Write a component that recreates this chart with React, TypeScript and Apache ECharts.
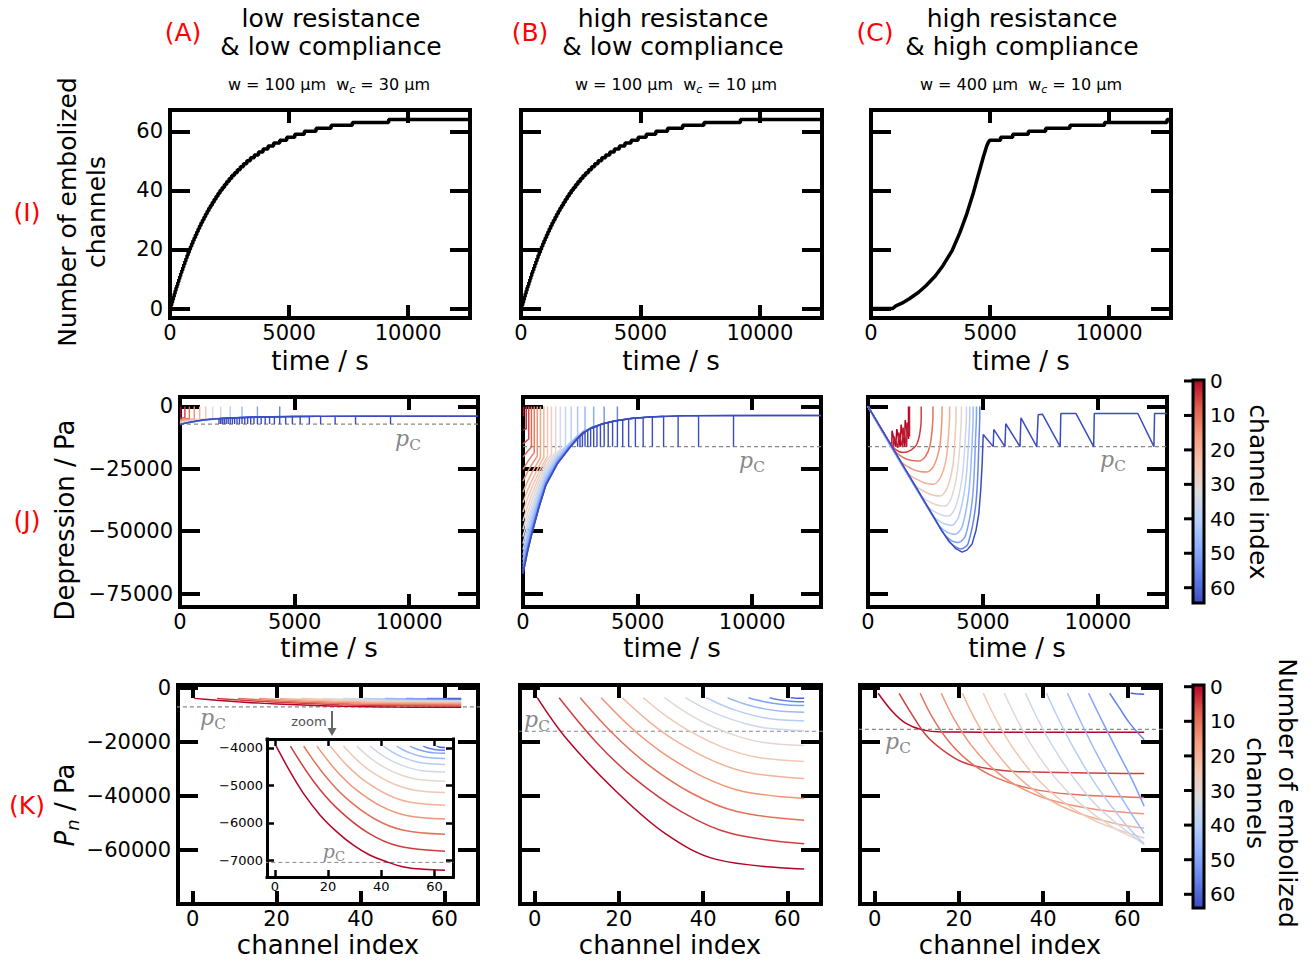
import React, { useEffect, useRef } from "react";
import * as echarts from "echarts";

const W = 1311;
const H = 960;
const FONT = "DejaVu Sans";
const SERIF = "DejaVu Serif";
const RED = "#ff0000";
const GREY = "#888888";

// ---------- tick values ----------
const TIME_TICKS = [0, 5000, 10000];
const COUNT_TICKS = [0, 20, 40, 60];
const DEPRESSION_TICKS = [0, -25000, -50000, -75000];
const PN_TICKS = [0, -20000, -40000, -60000];
const CHANNEL_TICKS = [0, 20, 40, 60];
const INSET_Y_TICKS = [-4000, -5000, -6000, -7000];
const COLORBAR_TICKS = [0, 10, 20, 30, 40, 50, 60];

// ---------- critical pressures ----------
const PC_A = -7060;
const PC_B = -16100;
const PC_C_TIME = -16100;
const PC_C_CHANNEL = -15400;

// ---------- row I : embolization times (A and B identical) ----------
const EMB_TIMES_AB = [
  34, 69, 104, 140, 176, 213, 251, 289, 328, 368, 408, 449, 491, 534, 577, 622,
  667, 713, 761, 809, 858, 909, 961, 1014, 1068, 1124, 1181, 1240, 1300, 1362,
  1426, 1491, 1559, 1629, 1701, 1776, 1853, 1933, 2016, 2102, 2192, 2286, 2383,
  2486, 2593, 2706, 2825, 2951, 3084, 3226, 3378, 3541, 3717, 3908, 4118, 4350,
  4609, 4903, 5242, 5643, 6134, 6767, 7659, 9184,
];
const EMBOLIZED_C = [
  [0, 0], [903, 0], [1045, 0.9], [1300, 1.8], [1610, 3.3], [2000, 5.5], [2318, 7.8],
  [2700, 11], [3020, 14.5], [3400, 19.5], [3729, 25.6], [4000, 31.5], [4294, 39],
  [4500, 45], [4718, 51.3], [4850, 54.8], [4929, 56.3], [5000, 57], [5444, 57],
  [5444, 58], [5953, 58], [5953, 59], [6608, 59], [6608, 60], [7336, 60], [7336, 61],
  [8355, 61], [8355, 62], [9811, 62], [9811, 63], [12432, 63], [12432, 64], [12600, 64],
];

// ---------- row J : channel pressures vs time ----------
const JUMP_MAX_CHANNEL = 55;

const JA_CHANNELS = [0, 5, 10, 15, 20, 25, 30, 35, 40, 45, 50, 55, 60, 63];
const JA_CURVES = [
  [[0, -3950], [34, -3950]],
  [[0, -4560], [213, -4470]],
  [[0, -5140], [200, -4970], [408, -4830]],
  [[0, -5640], [200, -5410], [400, -5210], [622, -5010]],
  [[0, -6080], [200, -5790], [400, -5540], [700, -5220], [858, -5080]],
  [[0, -6400], [200, -6070], [400, -5780], [700, -5420], [1000, -5130], [1124, -5030]],
  [[0, -6620], [200, -6260], [400, -5945], [700, -5550], [1000, -5230], [1426, -4880]],
  [[0, -6840], [200, -6450], [400, -6110], [700, -5685], [1000, -5340], [1500, -4910], [1776, -4720]],
  [[0, -7000], [200, -6590], [400, -6230], [700, -5780], [1000, -5420], [1500, -4960], [2000, -4640], [2192, -4550]],
  [[0, -7120], [200, -6690], [400, -6320], [700, -5855], [1000, -5480], [1500, -5000], [2000, -4670], [2500, -4440], [2706, -4370]],
  [[0, -7200], [200, -6760], [400, -6380], [700, -5900], [1000, -5520], [1500, -5030], [2000, -4690], [2500, -4450], [3000, -4290], [3378, -4200]],
  [[0, -7245], [200, -6800], [400, -6420], [700, -5930], [1000, -5540], [1500, -5050], [2000, -4700], [2500, -4460], [3000, -4290], [3500, -4170], [4000, -4090], [4350, -4050]],
  [[0, -7265], [200, -6790], [400, -6385], [700, -5850], [1000, -5380], [1500, -4980], [2000, -4690], [2500, -4460], [3000, -4290], [3500, -4170], [4000, -4100], [5000, -3990], [6134, -3940]],
  [[0, -7270], [200, -6800], [400, -6390], [700, -5850], [1000, -5380], [1500, -4980], [2000, -4690], [2500, -4460], [3000, -4290], [3500, -4170], [4000, -4100], [5000, -3990], [6000, -3950], [8000, -3910], [13000, -3900]],
];
const JA_COMB_FIRST = 34;
const JA_COMB_TOPS = [
  -4870, -4840, -4810, -4780, -4750, -4720, -4690, -4660, -4630, -4590, -4560, -4520,
  -4480, -4440, -4400, -4360, -4320, -4280, -4240, -4200, -4160, -4120, -4080, -4040,
  -4000, -3970, -3950, -3930, -3910, -3900,
];

const JB_CHANNELS = [0, 3, 6, 9, 12, 15, 18, 21, 24, 27, 30, 33, 36, 39, 42, 45, 48, 51, 54, 57, 60, 63];
const JB_CURVES = [
  [[0, -3700], [34, -3700]],
  [[0, -9500], [140, -8910]],
  [[0, -15000], [251, -13060]],
  [[0, -20300], [200, -17960], [368, -16290]],
  [[0, -25200], [200, -22180], [400, -19580], [491, -18500]],
  [[0, -29900], [200, -26220], [400, -23060], [622, -19910]],
  [[0, -34300], [200, -30000], [400, -26320], [761, -20490]],
  [[0, -38500], [200, -33610], [400, -29430], [700, -23840], [909, -20350]],
  [[0, -42300], [200, -36880], [400, -32240], [700, -26050], [1068, -19850]],
  [[0, -45900], [200, -39980], [400, -34900], [700, -28130], [1000, -22210], [1240, -19250]],
  [[0, -49200], [200, -42820], [400, -37340], [700, -30050], [1000, -23660], [1426, -18190]],
  [[0, -52200], [200, -45400], [400, -39560], [700, -31790], [1000, -24980], [1500, -18420], [1629, -17210]],
  [[0, -55000], [200, -47800], [400, -41640], [700, -33410], [1000, -26220], [1500, -19280], [1853, -15940]],
  [[0, -57400], [200, -49870], [400, -43410], [700, -34800], [1000, -27270], [1500, -20010], [2000, -14950], [2102, -13820]],
  [[0, -59600], [200, -51760], [400, -45040], [700, -36080], [1000, -28240], [1500, -20680], [2000, -15420], [2383, -11550]],
  [[0, -61500], [200, -53390], [400, -46450], [700, -37180], [1000, -29080], [1500, -21260], [2000, -15820], [2300, -12630], [2706, -9390]],
  [[0, -63100], [200, -54770], [400, -47630], [700, -38110], [1000, -29780], [1500, -21750], [2000, -16150], [2600, -10320], [3084, -7940]],
  [[0, -64500], [200, -55970], [400, -48670], [700, -38920], [1000, -30400], [1500, -22170], [2000, -16450], [2600, -10480], [3000, -8410], [3541, -6650]],
  [[0, -65600], [200, -56920], [400, -49480], [700, -39560], [1000, -30880], [1500, -22510], [2000, -16680], [2600, -10610], [3000, -8500], [3500, -6820], [4118, -5580]],
  [[0, -66300], [200, -57520], [400, -50000], [700, -39970], [1000, -31190], [1500, -22720], [2000, -16830], [2600, -10690], [3000, -8550], [3500, -6860], [4000, -5790], [4903, -4600]],
  [[0, -66900], [200, -58040], [400, -50440], [700, -40310], [1000, -31450], [1500, -22910], [2000, -16960], [2600, -10750], [3000, -8600], [3500, -6890], [4000, -5820], [4700, -4800], [5500, -4200], [6134, -3920]],
  [[0, -67100], [200, -58200], [400, -50600], [700, -40400], [1000, -31500], [1500, -23000], [2000, -17000], [2300, -13500], [2600, -10800], [3000, -8600], [3500, -6900], [4000, -5800], [4700, -4800], [5500, -4200], [7000, -3700], [13000, -3600]],
];
const JB_COMB_FIRST = 42;
const JB_COMB_TOPS = [
  -12800, -12000, -11200, -10300, -9500, -8800, -8300, -7800, -7300, -6800, -6400,
  -6000, -5600, -5300, -4900, -4600, -4400, -4150, -3950, -3750, -3650, -3600,
];

const JC_CHANNELS = [0, 2, 5, 10, 15, 20, 25, 30, 35, 40, 45, 50, 55, 63];
const JC_CURVES = [
  [[0, 0], [1035, -16100], [1045, -9700], [1200, -16100], [1253, -9100], [1400, -16100], [1441, -7300], [1590, -16100], [1616, -5500], [1761, -13000]],
  [[0, 0], [1100, -17000], [1130, -12000], [1300, -16500], [1340, -10500], [1500, -16300], [1530, -8500], [1680, -16200], [1700, -6500], [1805, -12000]],
  [[0, 0], [900, -14000], [1200, -17300], [1543, -18500], [1850, -17600], [2100, -15500], [2250, -11000], [2314, -5000]],
  [[0, 0], [1100, -17200], [1500, -20300], [1850, -21600], [2198, -21900], [2500, -20000], [2700, -15500], [2800, -8000], [2825, -3000]],
  [[0, 0], [1400, -21800], [1900, -25000], [2250, -26100], [2562, -26300], [2850, -24000], [3100, -17000], [3190, -9000], [3218, -3000]],
  [[0, 0], [1700, -26500], [2300, -30000], [2600, -31000], [2853, -31200], [3150, -28500], [3400, -21000], [3510, -10000], [3550, -3000]],
  [[0, 0], [2000, -31200], [2600, -34800], [2900, -35700], [3144, -35900], [3450, -32500], [3700, -23000], [3800, -10000], [3829, -3000]],
  [[0, 0], [2300, -35800], [2850, -39000], [3150, -39800], [3362, -39900], [3650, -36000], [3900, -25000], [4030, -10000], [4061, -3000]],
  [[0, 0], [2550, -39700], [3050, -43000], [3330, -43800], [3508, -43900], [3820, -40000], [4100, -28000], [4250, -10000], [4279, -3000]],
  [[0, 0], [2800, -43600], [3250, -46800], [3500, -47500], [3654, -47600], [3950, -44000], [4250, -30000], [4400, -10000], [4424, -3000]],
  [[0, 0], [3050, -47400], [3450, -50500], [3650, -51100], [3799, -51200], [4100, -48000], [4400, -33000], [4550, -10000], [4572, -3000]],
  [[0, 0], [3300, -51000], [3650, -53900], [3820, -54400], [3945, -54500], [4250, -51500], [4550, -36000], [4690, -10000], [4716, -3000]],
  [[0, 0], [3500, -54000], [3850, -56500], [3970, -57000], [4040, -57100], [4350, -55000], [4700, -38000], [4840, -10000], [4860, -3000]],
  [[0, 0], [1035, -16000], [2052, -31700], [2780, -43100], [3200, -49800], [3507, -53700], [3800, -56900], [4090, -58400], [4300, -57600], [4527, -55100], [4700, -49500], [4817, -43100], [4900, -33500], [4963, -23100], [4990, -16100], [5010, -11200], [5444, -16100], [5470, -9200], [5953, -16100], [5990, -6930], [6608, -16100], [6650, -4530], [7336, -16100], [7400, -3300], [7583, -3100], [8355, -16100], [8384, -2800], [9039, -2800], [9811, -16100], [9840, -2800], [11733, -2800], [12432, -16100], [12460, -2800], [13000, -2800]],
];
const JC_SMOOTH = [false, false, 0.3, 0.3, 0.3, 0.3, 0.3, 0.3, 0.3, 0.3, 0.3, 0.3, 0.3, false];

// ---------- row K : pressure profiles along channels ----------
const EMBOLIZED_COUNTS = [0, 5, 10, 15, 20, 25, 30, 35, 40, 45, 50, 55, 60];
const KA_CURVES = [
  [[0.4, -3946], [5.7, -4635], [10.7, -5215], [17, -5796], [23.3, -6243], [29.5, -6600], [35.8, -6869], [42.2, -7047], [48.4, -7181], [56, -7244], [64, -7271]],
  [[5.8, -3950], [14.5, -4889], [23.3, -5608], [34.9, -6263], [46.5, -6622], [64, -6760]],
  [[10.8, -3950], [18.8, -4738], [26.8, -5342], [37.4, -5892], [48.0, -6194], [64, -6310]],
  [[15.8, -3950], [23.0, -4601], [30.3, -5100], [39.9, -5555], [49.5, -5804], [64, -5900]],
  [[20.8, -3950], [27.3, -4478], [33.8, -4882], [42.4, -5250], [51.0, -5453], [64, -5530]],
  [[25.8, -3950], [31.5, -4364], [37.3, -4682], [44.9, -4971], [52.5, -5129], [64, -5190]],
  [[30.8, -3950], [35.8, -4264], [40.8, -4505], [47.4, -4724], [54.0, -4844], [64, -4890]],
  [[35.8, -3950], [40.0, -4180], [44.3, -4357], [49.9, -4518], [55.5, -4606], [64, -4640]],
  [[40.8, -3950], [44.3, -4114], [47.8, -4239], [52.4, -4353], [57.0, -4416], [64, -4440]],
  [[45.8, -3950], [48.5, -4060], [51.3, -4145], [54.9, -4222], [58.5, -4264], [64, -4280]],
  [[50.8, -3950], [52.8, -4013], [54.8, -4062], [57.4, -4106], [60.0, -4131], [64, -4140]],
  [[55.8, -3950], [57.0, -3987], [58.3, -4015], [59.9, -4041], [61.5, -4055], [64, -4060]],
  [[60.8, -3950], [61.3, -3963], [61.8, -3974], [62.4, -3983], [63.0, -3988], [64, -3990]],
];
const KB_CURVES = [
  [[0.6, -3700], [7.4, -18600], [19.3, -38300], [31.2, -54200], [43.1, -63500], [64, -67100]],
  [[5.8, -3700], [14.5, -19954], [23.3, -33076], [34.9, -45928], [46.5, -53866], [64, -57700]],
  [[10.8, -3700], [18.8, -17335], [26.8, -28343], [37.4, -39125], [48.0, -45784], [64, -49000]],
  [[15.8, -3700], [23.0, -14927], [30.3, -23991], [39.9, -32869], [49.5, -38352], [64, -41000]],
  [[20.8, -3700], [27.3, -12700], [33.8, -19966], [42.4, -27082], [51.0, -31477], [64, -33600]],
  [[25.8, -3700], [31.5, -10804], [37.3, -16538], [44.9, -22155], [52.5, -25624], [64, -27300]],
  [[30.8, -3700], [35.8, -9028], [40.8, -13329], [47.4, -17541], [54.0, -20143], [64, -21400]],
  [[35.8, -3700], [40.0, -7372], [44.3, -10337], [49.9, -13240], [55.5, -15034], [64, -15900]],
  [[40.8, -3700], [44.3, -6289], [47.8, -8378], [52.4, -10425], [57.0, -11689], [64, -12300]],
  [[45.8, -3700], [48.5, -5325], [51.3, -6638], [54.9, -7923], [58.5, -8717], [64, -9100]],
  [[50.8, -3700], [52.8, -4573], [54.8, -5278], [57.4, -5968], [60.0, -6394], [64, -6600]],
  [[55.8, -3700], [57.0, -4152], [58.3, -4516], [59.9, -4873], [61.5, -5093], [64, -5200]],
  [[60.8, -3700], [61.3, -3760], [61.8, -3809], [62.4, -3856], [63.0, -3886], [64, -3900]],
];
const KC_CURVES = [
  [[0.8, -2060], [4.2, -8830], [7.3, -13100], [11.3, -15600], [16, -16400], [25, -16430], [64, -16430]],
  [[5.8, -2070], [8.9, -10050], [12.1, -17400], [16, -22900], [20.8, -27500], [27.1, -30000], [35, -31100], [64, -31760]],
  [[10.8, -2060], [13.8, -11280], [17.8, -20260], [22.8, -27770], [28.8, -33260], [36.8, -37230], [46.8, -39440], [64, -40640]],
  [[15.8, -2060], [18.8, -11460], [22.8, -21050], [27.8, -29580], [33.8, -36290], [41.8, -41540], [51.8, -44820], [64, -46580]],
  [[20.8, -2060], [23.8, -11590], [27.8, -21700], [32.8, -31070], [38.8, -38910], [46.8, -45520], [56.8, -50130], [64, -51980]],
  [[25.8, -2060], [28.8, -11710], [32.8, -22200], [37.8, -32270], [43.8, -41080], [51.8, -48870], [64, -55590]],
  [[30.8, -2060], [33.8, -11770], [37.8, -22610], [42.8, -33250], [48.8, -42890], [56.8, -51860], [64, -57220]],
  [[35.8, -2060], [38.8, -11880], [42.8, -23030], [47.8, -34480], [53.8, -45240], [64, -58020]],
  [[40.8, -2060], [43.8, -12050], [47.8, -23860], [52.8, -36480], [58.8, -49000], [64, -57880]],
  [[45.8, -2060], [48.8, -12120], [52.8, -24690], [57.8, -38600], [64, -53840]],
  [[50.8, -2060], [54, -12300], [57.5, -23000], [61, -33600], [64, -43790]],
  [[55.8, -2060], [58, -7200], [60.5, -13000], [64, -19250]],
  [[60.8, -2060], [62, -2200], [64, -2430]],
];

// ---------- colours ----------
const COOLWARM = [
  [59, 76, 192], [98, 130, 234], [141, 176, 254], [184, 208, 249], [221, 220, 220],
  [245, 196, 173], [244, 154, 123], [222, 96, 77], [180, 4, 38],
];
function coolwarm(v: number) {
  const n = COOLWARM.length - 1;
  const x = Math.max(0, Math.min(1, v)) * n;
  const i = Math.min(n - 1, Math.floor(x));
  const f = x - i;
  const a = COOLWARM[i];
  const b = COOLWARM[i + 1];
  const c = a.map((av, j) => Math.round(av + (b[j] - av) * f));
  return `rgb(${c[0]},${c[1]},${c[2]})`;
}
const colorOf = (k: number) => coolwarm(1 - k / 63);

// ---------- layout ----------
const MAIN = { line: 4, tickW: 4, xTick: 13, yTick: 20, font: 21, xMargin: 4, yMargin: 7 };
const INSET = { line: 3, tickW: 2.5, xTick: 7, yTick: 7, font: 13, xMargin: 3, yMargin: 4 };
const LABEL_FONT = 26;

const PANELS = [
  { g: { left: 170, top: 110, width: 300, height: 208 }, x: [0, 12600], y: [-3.2, 67.2], xt: TIME_TICKS, yt: COUNT_TICKS, showY: true, s: MAIN },
  { g: { left: 521, top: 110, width: 301, height: 208 }, x: [0, 12600], y: [-3.2, 67.2], xt: TIME_TICKS, yt: COUNT_TICKS, showY: false, s: MAIN },
  { g: { left: 871, top: 110, width: 300, height: 208 }, x: [0, 12600], y: [-3.2, 67.2], xt: TIME_TICKS, yt: COUNT_TICKS, showY: false, s: MAIN },
  { g: { left: 180, top: 397, width: 298, height: 210 }, x: [0, 13000], y: [-80400, 3800], xt: TIME_TICKS, yt: DEPRESSION_TICKS, showY: true, s: MAIN },
  { g: { left: 523, top: 397, width: 298, height: 210 }, x: [0, 13000], y: [-80400, 3800], xt: TIME_TICKS, yt: DEPRESSION_TICKS, showY: false, s: MAIN },
  { g: { left: 868, top: 397, width: 299, height: 210 }, x: [0, 13000], y: [-80400, 3800], xt: TIME_TICKS, yt: DEPRESSION_TICKS, showY: false, s: MAIN },
  { g: { left: 178, top: 685, width: 300, height: 219 }, x: [-3.5, 68], y: [-80000, 1000], xt: CHANNEL_TICKS, yt: PN_TICKS, showY: true, s: MAIN },
  { g: { left: 520, top: 685, width: 301, height: 219 }, x: [-3.5, 68], y: [-80000, 1000], xt: CHANNEL_TICKS, yt: PN_TICKS, showY: false, s: MAIN },
  { g: { left: 860, top: 685, width: 301, height: 219 }, x: [-3.5, 68], y: [-80000, 1000], xt: CHANNEL_TICKS, yt: PN_TICKS, showY: false, s: MAIN },
  { g: { left: 267, top: 739, width: 186, height: 138 }, x: [-3, 67], y: [-7450, -3760], xt: CHANNEL_TICKS, yt: INSET_Y_TICKS, showY: true, s: INSET },
];

const fmt = (v: number) => (v < 0 ? "\u2212" + String(-v) : String(v));

function buildAxes() {
  const xAxis: any[] = [];
  const yAxis: any[] = [];
  PANELS.forEach((p, g) => {
    const lineStyle = { color: "#000", width: p.s.line, cap: "square" };
    const base = (min: number, max: number) => ({
      type: "value", gridIndex: g, min, max, silent: true,
      splitLine: { show: false },
      axisLine: { show: true, onZero: false, lineStyle },
    });
    const tick = (vals: number[], len: number) => ({
      show: true, inside: true, length: len, customValues: vals,
      lineStyle: { color: "#000", width: p.s.tickW },
    });
    const label = (vals: number[], show: boolean, margin: number) => ({
      show, customValues: vals, margin, fontFamily: FONT, fontSize: p.s.font, color: "#000",
      formatter: fmt, showMinLabel: true, showMaxLabel: true, hideOverlap: false,
    });
    xAxis.push({ ...base(p.x[0], p.x[1]), position: "bottom", axisTick: tick(p.xt, p.s.xTick), axisLabel: label(p.xt, true, p.s.xMargin) });
    xAxis.push({ ...base(p.x[0], p.x[1]), position: "top", axisTick: tick(p.xt, p.s.xTick), axisLabel: { show: false } });
    yAxis.push({ ...base(p.y[0], p.y[1]), position: "left", axisTick: tick(p.yt, p.s.yTick), axisLabel: label(p.yt, p.showY, p.s.yMargin) });
    yAxis.push({ ...base(p.y[0], p.y[1]), position: "right", axisTick: tick(p.yt, p.s.yTick), axisLabel: { show: false } });
  });
  return { xAxis, yAxis };
}

function line(g: number, data: number[][], color: string, width: number, extra: any = {}) {
  return {
    type: "line", xAxisIndex: 2 * g, yAxisIndex: 2 * g, data, symbol: "none", showSymbol: false,
    silent: true, clip: true, lineStyle: { color, width }, ...extra,
  };
}

function pcLine(g: number, pc: number, x0: number, x1: number, width = 1.2) {
  return line(g, [[x0, pc], [x1, pc]], GREY, width, { lineStyle: { color: GREY, width, type: [4, 3] } });
}

function stair(times: number[], tEnd: number) {
  const d: number[][] = [[0, 0]];
  times.forEach((t, i) => {
    d.push([t, i]);
    d.push([t, i + 1]);
  });
  d.push([tEnd, times.length]);
  return d;
}

function withJump(k: number, pts: number[][]) {
  if (k > JUMP_MAX_CHANNEL) return pts;
  const last = pts[pts.length - 1];
  return [...pts, [last[0], 0]];
}

function comb(times: number[], first: number, tops: number[], pc: number, tEnd: number) {
  const d: number[][] = [];
  tops.forEach((top, i) => {
    const t = times[first + i];
    d.push([t, top], [t, pc], [t, top]);
  });
  d.push([tEnd, tops[tops.length - 1]]);
  return d;
}

const K_SMOOTH = { smooth: 0.35 };

function buildSeries() {
  const s: any[] = [];
  // row I
  s.push(line(0, stair(EMB_TIMES_AB, 12600), "#000", 3.5));
  s.push(line(1, stair(EMB_TIMES_AB, 12600), "#000", 3.5));
  s.push(line(2, EMBOLIZED_C, "#000", 3.5));
  // row J
  s.push(pcLine(3, PC_A, 0, 13000));
  JA_CURVES.forEach((c, i) => s.push(line(3, withJump(JA_CHANNELS[i], c), colorOf(JA_CHANNELS[i]), 1.4)));
  s.push(line(3, comb(EMB_TIMES_AB, JA_COMB_FIRST, JA_COMB_TOPS, PC_A, 13000), colorOf(63), 1.4));
  s.push(pcLine(4, PC_B, 0, 13000));
  JB_CURVES.forEach((c, i) => s.push(line(4, withJump(JB_CHANNELS[i], c), colorOf(JB_CHANNELS[i]), 1.5)));
  s.push(line(4, comb(EMB_TIMES_AB, JB_COMB_FIRST, JB_COMB_TOPS, PC_B, 13000), colorOf(63), 1.4));
  s.push(pcLine(5, PC_C_TIME, 0, 13000));
  JC_CURVES.forEach((c, i) => s.push(line(5, withJump(JC_CHANNELS[i], c), colorOf(JC_CHANNELS[i]), 1.5, { smooth: JC_SMOOTH[i] })));
  // row K
  s.push(pcLine(6, PC_A, -4, 70));
  KA_CURVES.forEach((c, i) => s.push(line(6, c, colorOf(EMBOLIZED_COUNTS[i]), 1.5, K_SMOOTH)));
  s.push(pcLine(7, PC_B, -4, 70));
  KB_CURVES.forEach((c, i) => s.push(line(7, c, colorOf(EMBOLIZED_COUNTS[i]), 1.5, K_SMOOTH)));
  s.push(pcLine(8, PC_C_CHANNEL, -4, 70));
  KC_CURVES.forEach((c, i) => s.push(line(8, c, colorOf(EMBOLIZED_COUNTS[i]), 1.5, K_SMOOTH)));
  s.push(pcLine(9, PC_A, -4, 70, 1));
  KA_CURVES.forEach((c, i) => s.push(line(9, c, colorOf(EMBOLIZED_COUNTS[i]), 1.5, K_SMOOTH)));
  return s;
}

// ---------- graphic helpers ----------
function text(x: number, y: number, t: string, size: number, extra: any = {}, rotation = 0) {
  return {
    type: "text", x, y, rotation, z: 100, silent: true,
    style: { text: t, fontSize: size, fontFamily: FONT, fill: "#000", align: "center", verticalAlign: "middle", ...extra },
  };
}

function subtitle(x: number, w: string, wc: string) {
  return text(x, 84, `{n|w = ${w} μm  w}{c|c}{n| = ${wc} μm}`, 16, {
    rich: {
      n: { fontSize: 16, fontFamily: FONT, fill: "#000", lineHeight: 22, verticalAlign: "middle" },
      c: { fontSize: 11, fontFamily: FONT, fontStyle: "italic", fill: "#000", lineHeight: 10, verticalAlign: "bottom" },
    },
  });
}

function pcText(x: number, y: number, size = 22) {
  return text(x, y, "{p|p}{c|C}", size, {
    rich: {
      p: { fontSize: size, fontFamily: SERIF, fontStyle: "italic", fill: GREY, lineHeight: size * 1.3, verticalAlign: "middle" },
      c: { fontSize: size * 0.7, fontFamily: SERIF, fill: GREY, lineHeight: size * 0.55, verticalAlign: "bottom" },
    },
  });
}

function colorbar(top: number, bottom: number, zeroY: number, step10: number) {
  const els: any[] = [];
  const stops = COOLWARM.map((c, i) => ({
    offset: 1 - i / (COOLWARM.length - 1),
    color: `rgb(${c[0]},${c[1]},${c[2]})`,
  })).reverse();
  els.push({
    type: "rect", z: 90, silent: true,
    shape: { x: 1193, y: top, width: 11, height: bottom - top },
    style: { fill: { type: "linear", x: 0, y: 0, x2: 0, y2: 1, colorStops: stops }, stroke: "#000", lineWidth: 3 },
  });
  COLORBAR_TICKS.forEach((v) => {
    const y = zeroY + (v / 10) * step10;
    els.push({ type: "line", z: 91, silent: true, shape: { x1: 1184, y1: y, x2: 1193, y2: y }, style: { stroke: "#000", lineWidth: 3 } });
    els.push(text(1210, y, String(v), 20, { align: "left" }));
  });
  return els;
}

function buildGraphic() {
  const g: any[] = [];
  // column headings
  g.push(text(183, 32, "(A)", 25, { fill: RED }));
  g.push(text(331, 18, "low resistance", 25));
  g.push(text(331, 46, "& low compliance", 25));
  g.push(subtitle(329, "100", "30"));
  g.push(text(530, 32, "(B)", 25, { fill: RED }));
  g.push(text(673, 18, "high resistance", 25));
  g.push(text(673, 46, "& low compliance", 25));
  g.push(subtitle(676, "100", "10"));
  g.push(text(875, 32, "(C)", 25, { fill: RED }));
  g.push(text(1022, 18, "high resistance", 25));
  g.push(text(1022, 46, "& high compliance", 25));
  g.push(subtitle(1021, "400", "10"));
  // row labels
  g.push(text(27, 212, "(I)", 25, { fill: RED }));
  g.push(text(27, 520, "(J)", 25, { fill: RED }));
  g.push(text(27, 805, "(K)", 25, { fill: RED }));
  // y names
  g.push(text(67, 212, "Number of embolized", 25, {}, Math.PI / 2));
  g.push(text(96, 212, "channels", 25, {}, Math.PI / 2));
  g.push(text(65, 520, "Depression / Pa", LABEL_FONT, {}, Math.PI / 2));
  g.push(text(65, 805, "{P|P}{n|n}{t| / Pa}", LABEL_FONT, {
    rich: {
      P: { fontSize: LABEL_FONT, fontFamily: FONT, fontStyle: "italic", fill: "#000", lineHeight: 32, verticalAlign: "middle" },
      n: { fontSize: 18, fontFamily: FONT, fontStyle: "italic", fill: "#000", lineHeight: 15, verticalAlign: "bottom" },
      t: { fontSize: LABEL_FONT, fontFamily: FONT, fill: "#000", lineHeight: 32, verticalAlign: "middle" },
    },
  }, Math.PI / 2));
  // x names
  [320, 671, 1021].forEach((x) => g.push(text(x, 361, "time / s", LABEL_FONT)));
  [329, 672, 1017].forEach((x) => g.push(text(x, 648, "time / s", LABEL_FONT)));
  [328, 670, 1010].forEach((x) => g.push(text(x, 945, "channel index", LABEL_FONT)));
  // pc labels
  g.push(pcText(408, 438));
  g.push(pcText(752, 460));
  g.push(pcText(1113, 459));
  g.push(pcText(213, 717));
  g.push(pcText(537, 719));
  g.push(pcText(898, 741));
  g.push(pcText(334, 851, 19));
  // zoom annotation
  g.push(text(309, 721, "zoom", 13, { fill: "#555" }));
  g.push({ type: "line", z: 95, silent: true, shape: { x1: 332, y1: 711, x2: 332, y2: 729 }, style: { stroke: "#666", lineWidth: 2 } });
  g.push({ type: "polygon", z: 95, silent: true, shape: { points: [[327.5, 728], [336.5, 728], [332, 736]] }, style: { fill: "#666" } });
  // colorbars
  colorbar(380, 603, 381, 34.45).forEach((e) => g.push(e));
  g.push(text(1258, 492, "channel index", 25, {}, -Math.PI / 2));
  colorbar(685, 908, 686.7, 34.6).forEach((e) => g.push(e));
  g.push(text(1287, 793, "Number of embolized", 25, {}, -Math.PI / 2));
  g.push(text(1255, 793, "channels", 25, {}, -Math.PI / 2));
  return g;
}

function buildOption() {
  const { xAxis, yAxis } = buildAxes();
  return {
    animation: false,
    backgroundColor: "#fff",
    grid: PANELS.map((p, i) => ({
      ...p.g, containLabel: false,
      show: i === 9, backgroundColor: "#fff", borderWidth: 0,
    })),
    xAxis,
    yAxis,
    series: buildSeries(),
    graphic: { elements: buildGraphic() },
  };
}

export default function App() {
  const ref = useRef<HTMLDivElement>(null);
  useEffect(() => {
    if (!ref.current) return;
    const chart = echarts.init(ref.current, null, { renderer: "svg" });
    chart.setOption(buildOption() as any);
    return () => chart.dispose();
  }, []);
  return (
    <div
      ref={ref}
      style={{ position: "absolute", left: 0, top: 0, width: W, height: H, background: "#fff" }}
    />
  );
}
